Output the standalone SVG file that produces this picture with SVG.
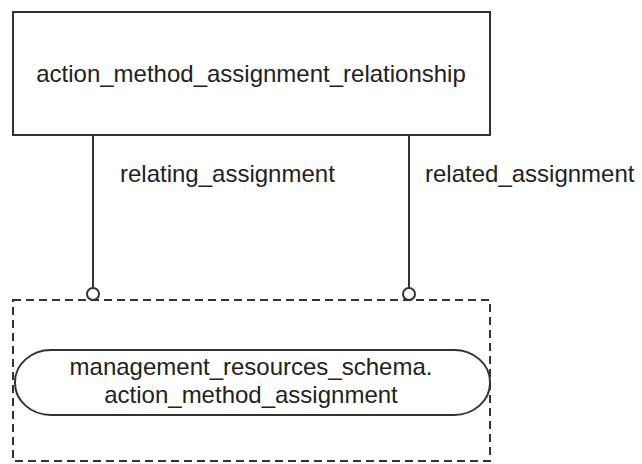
<svg xmlns="http://www.w3.org/2000/svg" width="642" height="464" viewBox="0 0 642 464">
<style>
text{font-family:"Liberation Sans",Arial,sans-serif;font-size:24px;fill:#222}
.box{fill:#fff;stroke:#333;stroke-width:2}
.dash{fill:none;stroke:#333;stroke-width:2;stroke-dasharray:8,5}
.conn{fill:none;stroke:#333;stroke-width:2}
.circ{fill:#fff;stroke:#333;stroke-width:2}
</style>
<rect width="642" height="464" fill="#fff"/>
<g id="action_method_assignment_relationship">
<rect class="box" x="13" y="12" width="477" height="123"/>
<text x="251" y="82" text-anchor="middle">action_method_assignment_relationship</text>
</g>
<g id="action_method_assignment">
<rect class="dash" x="13" y="300" width="477" height="161"/>
<rect class="box" x="15" y="350" width="475" height="65" rx="36" ry="32"/>
<text x="251" y="375" text-anchor="middle">management_resources_schema.</text>
<text x="251" y="403" text-anchor="middle">action_method_assignment</text>
</g>
<g id="connectors">
<line class="conn" x1="93" y1="135" x2="93" y2="288"/>
<circle class="circ" cx="93" cy="294" r="6"/>
<text x="120" y="182">relating_assignment</text>
<line class="conn" x1="409" y1="135" x2="409" y2="288"/>
<circle class="circ" cx="409" cy="294" r="6"/>
<text x="425" y="182">related_assignment</text>
</g>
</svg>
